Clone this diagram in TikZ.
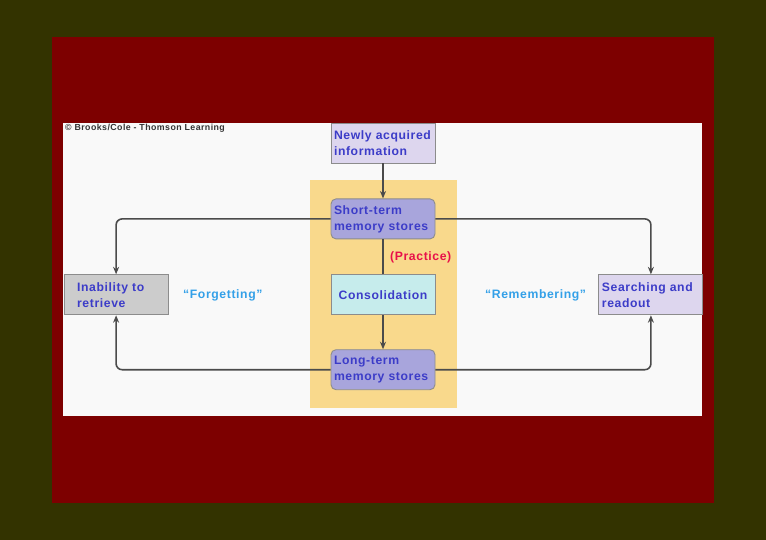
\documentclass[tikz,border=0pt]{standalone}
\usepackage{fontspec}
\setmainfont{Liberation Sans}[LetterSpace=5]
\usetikzlibrary{arrows.meta,positioning}
\definecolor{olivebg}{RGB}{51,51,0}
\definecolor{slidered}{RGB}{125,0,0}
\definecolor{panel}{RGB}{249,249,249}
\definecolor{golden}{RGB}{249,217,140}
\definecolor{txtblue}{RGB}{60,60,200}
\definecolor{storefill}{RGB}{168,165,220}
\definecolor{infofill}{RGB}{221,214,238}
\definecolor{consolfill}{RGB}{198,236,236}
\definecolor{grayfill}{RGB}{204,204,204}
\definecolor{quoteblue}{RGB}{51,160,232}
\definecolor{practicered}{RGB}{232,16,74}
\definecolor{wire}{RGB}{75,75,75}
\tikzset{
  basic/.style  = {draw=gray!90, line width=0.9pt, rectangle, text=txtblue,
                   font=\bfseries\fontsize{12.2}{16}\selectfont,
                   minimum width=104pt, minimum height=40pt,
                   text width=98pt, inner sep=3pt, align=left},
  store/.style  = {basic, rounded corners=5pt, fill=storefill},
  info/.style   = {basic, fill=infofill},
  consol/.style = {basic, fill=consolfill, align=center},
  fail/.style   = {basic, fill=grayfill, text width=78pt},
  quote/.style  = {anchor=west, inner sep=0pt, text=quoteblue,
                   font=\bfseries\fontsize{12.2}{16}\selectfont},
  wire/.style   = {draw=wire, line width=1.6pt, rounded corners=6pt}
}

\begin{document}
\begin{tikzpicture}[x=1pt, y=-1pt, node distance=35pt,
  >={Stealth[length=7.5pt,width=6pt]}]

  % slide background
  \fill[olivebg] (0,0) rectangle (766,540);
  \useasboundingbox (0,0) rectangle (766,540);
  \fill[slidered] (52,37) rectangle (714,503);
  \fill[panel] (63,123) rectangle (702,416);
  \fill[golden] (310,180) rectangle (457,408);
  \node[anchor=west, inner sep=0pt, font=\bfseries\fontsize{8.8}{10}\selectfont,
        text=black!80] (credit) at (65,128.5) {© Brooks/Cole - Thomson Learning};

  % central column
  \node[info] (newly) at (383,143) {Newly acquired\\information};
  \node[store, below=of newly] (short) {Short-term\\memory stores};
  \node[consol, below=of short] (consolidation) {Consolidation};
  \node[store, below=34pt of consolidation] (long) {Long-term\\memory stores};

  % the two outcomes
  \node[fail, left=162pt of consolidation] (inability) {Inability to\\retrieve};
  \node[info, right=163pt of consolidation] (searching) {Searching and\\readout};

  % labels
  \node[quote] (forgetting) at (183,295) {``Forgetting''};
  \node[quote] (remembering) at (485,295) {``Remembering''};
  \node[quote, text=practicered] (practice) at (390,257) {(Practice)};

  % connectors
  \draw[wire, ->] (newly) -- (short);
  \draw[wire] (short) -- (consolidation);
  \draw[wire, ->] (consolidation) -- (long);
  \draw[wire, ->] (short.west) -| (inability.north);
  \draw[wire, ->] (short.east) -| (searching.north);
  \draw[wire, ->] (long.west) -| (inability.south);
  \draw[wire, ->] (long.east) -| (searching.south);
\end{tikzpicture}
\end{document}
